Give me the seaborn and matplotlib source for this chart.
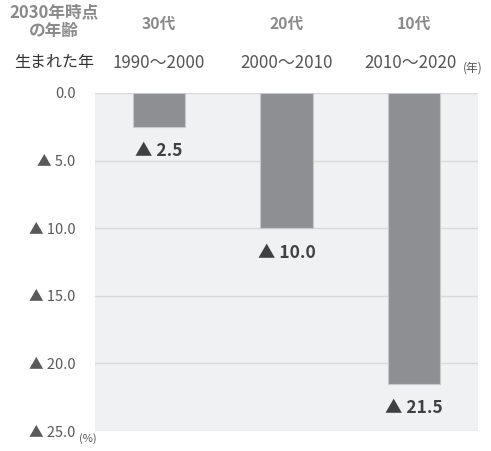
import matplotlib
matplotlib.use("Agg")
import matplotlib.pyplot as plt
import seaborn as sns
import pandas as pd

# Age in 2030, birth-year range and population decline (%)
ages = ["30代", "20代", "10代"]
birth_years = ["1990～2000", "2000～2010", "2010～2020"]
decline = [2.5, 10.0, 21.5]
y_ticks = [0, 5, 10, 15, 20, 25]
y_tick_labels = ["0.0", "▲ 5.0", "▲ 10.0", "▲ 15.0", "▲ 20.0", "▲ 25.0"]

sns.set_theme(style="white")
plt.rcParams["font.family"] = ["Noto Sans CJK JP", "DejaVu Sans"]

df = pd.DataFrame({"period": birth_years, "decline": decline})

fig = plt.figure(figsize=(4.91, 4.51), dpi=100)
ax = fig.add_axes([0.1935, 0.0443, 0.78, 0.7495])
ax.set_facecolor("#f0f1f3")

sns.barplot(data=df, x="period", y="decline", color="#8e8f93", saturation=1,
            width=0.41, ax=ax, zorder=3, edgecolor="#c8c9cc", linewidth=0.8)

ax.set_xlim(-0.5, 2.5)
ax.set_ylim(25, 0)
ax.set_yticks(y_ticks)
ax.set_yticklabels(y_tick_labels, color="#595959", fontsize=10.5)
ax.tick_params(axis="y", length=0, pad=14)
ax.set_xticks([])
ax.set_xlabel("")
ax.set_ylabel("")
for s in ax.spines.values():
    s.set_visible(False)
for t in y_ticks:
    ax.axhline(t, color="#d9d9d9", lw=1.0, zorder=1)

# value labels below each bar
for i, v in enumerate(decline):
    ax.annotate(f"▲ {v:.1f}", xy=(i, v), xytext=(0, -17.5), textcoords="offset points",
                ha="center", va="center", fontsize=12.5, fontweight="bold",
                color="#404040")

# header rows above the plot
to_fig = lambda px, py: (px / 491, 1 - py / 451)
for i, (a, b) in enumerate(zip(ages, birth_years)):
    xd = ax.transData.transform((i, 0))[0] / fig.bbox.width
    fig.text(xd, 1 - 24 / 451, a, ha="center", va="center", fontsize=11.3,
             fontweight="bold", color="#8a8a8a")
    fig.text(xd - (4 / 491 if i == 2 else 0), 1 - 63 / 451, b, ha="center",
             va="center", fontsize=12.2, color="#555555")

fig.text(*to_fig(54, 22), "2030年時点\nの年齢", ha="center", va="center",
         fontsize=12, fontweight="bold", color="#8a8a8a", linespacing=1.05)
fig.text(*to_fig(54, 63), "生まれた年", ha="center", va="center",
         fontsize=11.5, color="#333333")
fig.text(*to_fig(473, 68), "(年)", ha="center", va="center",
         fontsize=8.5, color="#555555")
fig.text(*to_fig(88, 439), "(%)", ha="center", va="center",
         fontsize=8, color="#555555")

fig.savefig("out.png", dpi=100)
